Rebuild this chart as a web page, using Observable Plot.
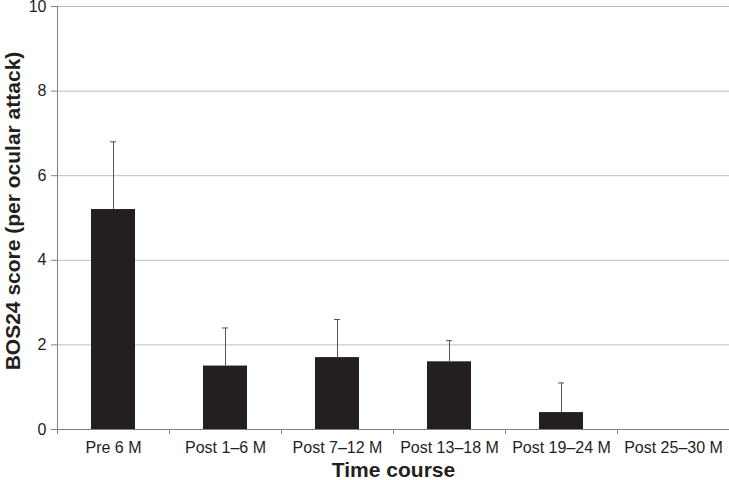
<!DOCTYPE html>
<html><head><meta charset="utf-8">
<script src="https://cdn.jsdelivr.net/npm/d3@7"></script>
<script src="https://cdn.jsdelivr.net/npm/@observablehq/plot@0.6"></script>
<style>body{margin:0;background:#fff}</style>
</head><body><div id="chart"></div>
<script>
const categories = ["Pre 6 M", "Post 1–6 M", "Post 7–12 M", "Post 13–18 M", "Post 19–24 M", "Post 25–30 M"];
const means = [5.2, 1.5, 1.7, 1.6, 0.4, 0];
const errors = [1.6, 0.9, 0.9, 0.5, 0.7, 0];
const yTicks = [0, 2, 4, 6, 8, 10];
const yTitle = "BOS24 score (per ocular attack)";
const xTitle = "Time course";

const data = categories.map((c, i) => ({cat: c, mean: means[i], upper: means[i] + errors[i]}));
const errData = data.filter((d, i) => errors[i] > 0);

const chart = Plot.plot({
  width: 729, height: 480,
  marginLeft: 57, marginRight: 0, marginTop: 6, marginBottom: 51,
  style: {fontFamily: "'Liberation Sans', Arial, sans-serif", fontSize: "16px", color: "#231f20", background: "#fff"},
  x: {domain: categories, paddingInner: 0.607, paddingOuter: 0.3035, label: null},
  y: {domain: [0, 10], label: null},
  marks: [
    Plot.gridY(yTicks.slice(1), {stroke: "#bdbdbd", strokeOpacity: 1}),
    Plot.barY(data, {x: "cat", y: "mean", fill: "#231f20"}),
    Plot.ruleX(errData, {x: "cat", y1: "mean", y2: "upper", stroke: "#555"}),
    Plot.tickY(errData, {x: "cat", y: "upper", stroke: "#555", insetLeft: 19, insetRight: 19}),
    Plot.axisY({ticks: yTicks, tickSize: 6, tickPadding: 5, label: null, fontSize: 16, stroke: "#808080", fill: "#231f20"}),
    Plot.axisX({tickSize: 0, tickPadding: 12, label: null, fontSize: 16, fill: "#231f20"}),
    Plot.axisX({text: null, tickSize: 5, dx: -56, stroke: "#808080", label: null}),
    Plot.ruleY([0], {stroke: "#808080"}),
    Plot.frame({anchor: "left", stroke: "#808080"}),
    Plot.text([xTitle], {frameAnchor: "bottom", dy: 47, fontSize: 21, fontWeight: "bold", fill: "#231f20"}),
    Plot.text([yTitle], {frameAnchor: "left", textAnchor: "middle", dx: -44, dy: -7, rotate: -90, fontSize: 21, fontWeight: "bold", fill: "#231f20"})
  ]
});
document.getElementById("chart").append(chart);
</script>
</body></html>
